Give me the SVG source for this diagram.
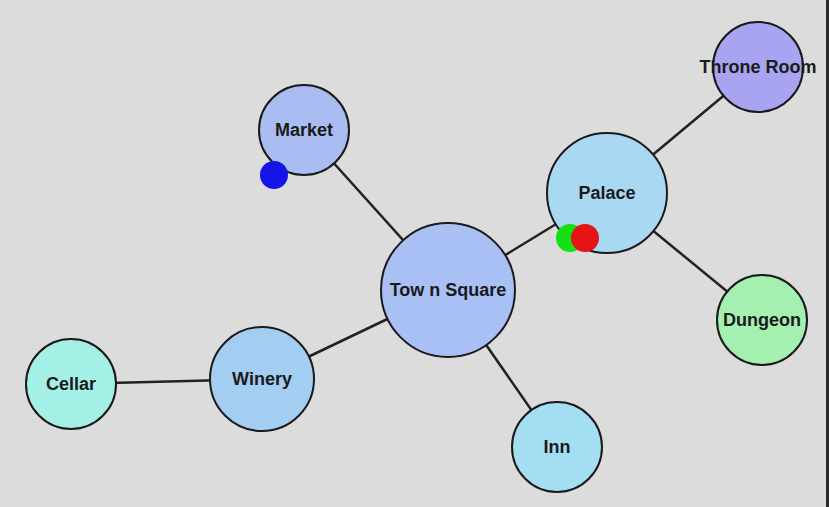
<svg xmlns="http://www.w3.org/2000/svg" width="829" height="507" viewBox="0 0 829 507">
<style>
.edge{stroke:#222;stroke-width:2.5;fill:none}
.node circle{stroke:#1a1a1a;stroke-width:2}
.node text{font-family:"Liberation Sans",Arial,sans-serif;font-weight:bold;font-size:18px;fill:#1a1a1a;text-anchor:middle;dominant-baseline:central}
</style>
<rect width="829" height="507" fill="#dcdcdc"/>
<rect x="826" y="0" width="3" height="507" fill="#2a2a2a"/>
<g id="connectors">
<line class="edge" x1="448" y1="290" x2="304" y2="130"/>
<line class="edge" x1="448" y1="290" x2="607" y2="193"/>
<line class="edge" x1="448" y1="290" x2="262" y2="379"/>
<line class="edge" x1="448" y1="290" x2="557" y2="447"/>
<line class="edge" x1="607" y1="193" x2="758" y2="67"/>
<line class="edge" x1="607" y1="193" x2="762" y2="320"/>
<line class="edge" x1="262" y1="379" x2="71" y2="384"/>
</g>
<g id="market" class="node"><circle cx="304" cy="130" r="45" fill="#a9bdf2"/><text x="304" y="130">Market</text></g>
<g id="palace" class="node"><circle cx="607" cy="193" r="60" fill="#a8d8f2"/><text x="607" y="193">Palace</text></g>
<g id="throne-room" class="node"><circle cx="758" cy="67" r="45" fill="#a9a4f2"/><text x="758" y="67">Throne Room</text></g>
<g id="town-square" class="node"><circle cx="448" cy="290" r="67" fill="#a8c0f4"/><text x="448" y="290">Tow n Square</text></g>
<g id="dungeon" class="node"><circle cx="762" cy="320" r="45" fill="#a4f0b0"/><text x="762" y="320">Dungeon</text></g>
<g id="inn" class="node"><circle cx="557" cy="447" r="45" fill="#a4def2"/><text x="557" y="447">Inn</text></g>
<g id="winery" class="node"><circle cx="262" cy="379" r="52" fill="#a4cdf2"/><text x="262" y="379">Winery</text></g>
<g id="cellar" class="node"><circle cx="71" cy="384" r="45" fill="#a4f0e6"/><text x="71" y="384">Cellar</text></g>
<g id="markers">
<circle cx="274" cy="175" r="14" fill="#1414e6"/>
<circle cx="570" cy="238" r="14" fill="#14e014"/>
<circle cx="585" cy="238" r="14" fill="#e61414"/>
</g>
</svg>
